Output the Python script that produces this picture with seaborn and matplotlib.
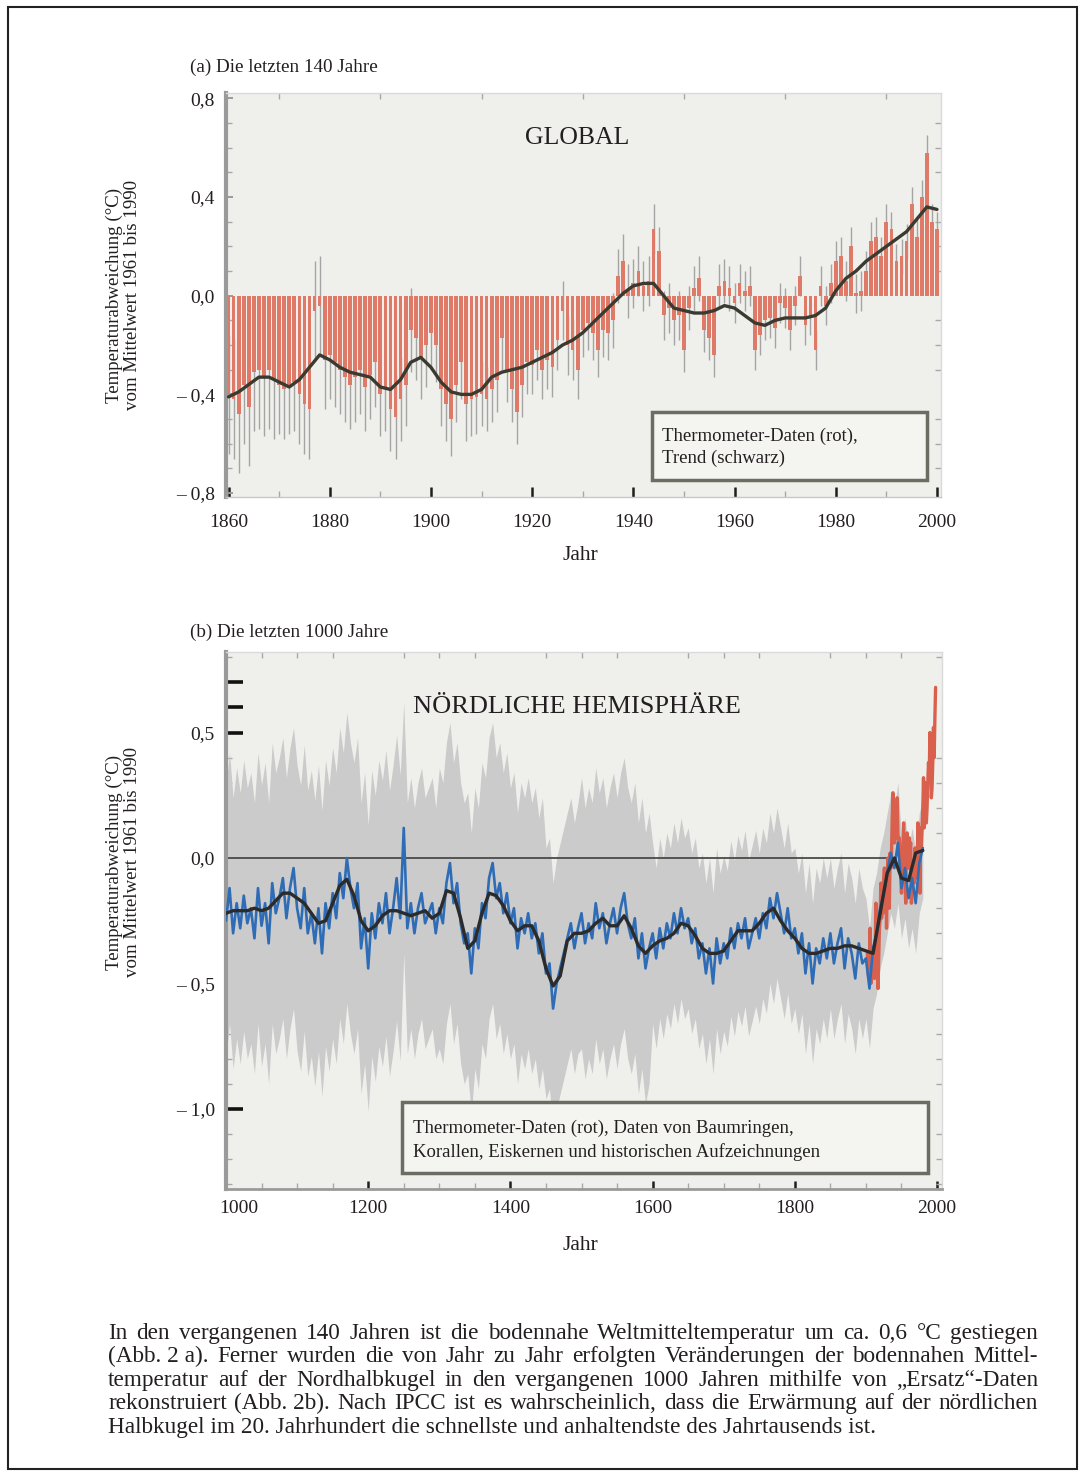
import numpy as np
import pandas as pd
import matplotlib
matplotlib.use("Agg")
import matplotlib.pyplot as plt
import seaborn as sns
from matplotlib.patches import Rectangle
from matplotlib.ticker import MultipleLocator
from matplotlib.transforms import ScaledTranslation

# ---------------- data: panel (a) ----------------
years_a = np.arange(1860, 2001)
temp_a = [
    -0.40, -0.42, -0.48, -0.36, -0.45, -0.31, -0.30, -0.33, -0.30, -0.34,
    -0.36, -0.38, -0.36, -0.35, -0.40, -0.44, -0.46, -0.06, -0.04, -0.26,
    -0.24, -0.27, -0.30, -0.33, -0.36, -0.33, -0.30, -0.37, -0.32, -0.27,
    -0.40, -0.38, -0.46, -0.49, -0.42, -0.36, -0.14, -0.17, -0.25, -0.20,
    -0.15, -0.20, -0.38, -0.44, -0.50, -0.36, -0.27, -0.44, -0.42, -0.41,
    -0.40, -0.42, -0.38, -0.34, -0.17, -0.30, -0.38, -0.47, -0.36, -0.27,
    -0.28, -0.22, -0.30, -0.26, -0.29, -0.18, -0.06, -0.20, -0.22, -0.30,
    -0.14, -0.11, -0.15, -0.22, -0.14, -0.15, -0.10, 0.08, 0.14, 0.02,
    0.05, 0.10, 0.04, 0.06, 0.27, 0.18, -0.08, -0.05, -0.10, -0.08,
    -0.22, -0.05, 0.03, 0.07, -0.14, -0.17, -0.24, 0.04, 0.06, 0.03,
    -0.03, 0.05, 0.02, 0.04, -0.22, -0.16, -0.10, -0.09, -0.13, -0.03,
    -0.05, -0.14, -0.04, 0.08, -0.12, -0.08, -0.22, 0.04, -0.04, 0.05,
    0.14, 0.16, 0.06, 0.20, 0.01, 0.02, 0.10, 0.22, 0.24, 0.16,
    0.30, 0.27, 0.14, 0.16, 0.22, 0.37, 0.24, 0.40, 0.58, 0.30,
    0.27,
]
err_decade_a = [0.24, 0.20, 0.18, 0.17, 0.15, 0.13, 0.12, 0.11, 0.10, 0.09,
                0.08, 0.08, 0.08, 0.07, 0.07]
trend_years_a = np.arange(1860, 2001, 2)
trend_a = [
    -0.41, -0.39, -0.36, -0.33, -0.33, -0.35, -0.37, -0.34, -0.29, -0.24,
    -0.26, -0.29, -0.31, -0.32, -0.33, -0.37, -0.38, -0.34, -0.27, -0.25,
    -0.29, -0.35, -0.39, -0.40, -0.40, -0.38, -0.33, -0.31, -0.30, -0.29,
    -0.27, -0.25, -0.23, -0.20, -0.18, -0.15, -0.11, -0.07, -0.03, 0.01,
    0.04, 0.05, 0.05, 0.00, -0.05, -0.06, -0.07, -0.07, -0.06, -0.04,
    -0.05, -0.08, -0.11, -0.12, -0.10, -0.09, -0.09, -0.09, -0.08, -0.05,
    0.02, 0.07, 0.10, 0.14, 0.17, 0.20, 0.23, 0.26, 0.31, 0.36,
    0.35,
]
xticks_a = [1860, 1880, 1900, 1920, 1940, 1960, 1980, 2000]
yticks_a = [0.8, 0.4, 0.0, -0.4, -0.8]
ylabels_a = ["0,8", "0,4", "0,0", "– 0,4", "– 0,8"]

# ---------------- data: panel (b) ----------------
years_b = np.arange(1000, 1981, 5)
proxy_b = [
    -0.25, -0.12, -0.30, -0.18, -0.28, -0.15, -0.26, -0.20, -0.32, -0.12,
    -0.27, -0.18, -0.34, -0.10, -0.22, -0.16, -0.08, -0.24, -0.12, -0.04,
    -0.20, -0.28, -0.12, -0.30, -0.22, -0.34, -0.20, -0.38, -0.18, -0.28,
    -0.14, -0.24, -0.06, -0.16, 0.00, -0.12, -0.20, -0.10, -0.36, -0.24,
    -0.44, -0.22, -0.32, -0.18, -0.26, -0.14, -0.30, -0.20, -0.08, -0.24,
    0.12, -0.28, -0.18, -0.30, -0.20, -0.14, -0.26, -0.22, -0.18, -0.30,
    -0.20, -0.26, -0.10, -0.02, -0.18, -0.10, -0.26, -0.34, -0.30, -0.46,
    -0.28, -0.36, -0.18, -0.24, -0.08, -0.02, -0.16, -0.10, -0.22, -0.14,
    -0.26, -0.20, -0.36, -0.24, -0.30, -0.22, -0.32, -0.26, -0.38, -0.30,
    -0.46, -0.42, -0.60, -0.50, -0.44, -0.38, -0.32, -0.26, -0.36, -0.28,
    -0.22, -0.34, -0.26, -0.32, -0.18, -0.28, -0.22, -0.34, -0.26, -0.20,
    -0.30, -0.20, -0.14, -0.26, -0.32, -0.24, -0.40, -0.30, -0.44, -0.36,
    -0.30, -0.40, -0.28, -0.36, -0.26, -0.32, -0.22, -0.30, -0.20, -0.28,
    -0.24, -0.34, -0.28, -0.40, -0.34, -0.46, -0.36, -0.50, -0.32, -0.42,
    -0.34, -0.40, -0.28, -0.36, -0.26, -0.32, -0.24, -0.36, -0.30, -0.24,
    -0.32, -0.22, -0.28, -0.16, -0.24, -0.14, -0.22, -0.30, -0.20, -0.32,
    -0.28, -0.38, -0.30, -0.46, -0.34, -0.50, -0.36, -0.42, -0.32, -0.40,
    -0.30, -0.42, -0.34, -0.28, -0.44, -0.32, -0.38, -0.48, -0.34, -0.42,
    -0.40, -0.52, -0.36, -0.30, -0.20, -0.14, -0.06, 0.02, -0.04, 0.06,
    -0.12, -0.04, -0.16, -0.08, -0.18, -0.02, 0.04,
]
unc_b_50yr = [0.54, 0.56, 0.57, 0.58, 0.57, 0.50, 0.56, 0.56, 0.54, 0.50,
              0.54, 0.54, 0.36, 0.36, 0.35, 0.34, 0.32, 0.30, 0.24, 0.20]
smooth_years_b = np.arange(1000, 1981, 10)
smooth_b = [
    -0.22, -0.21, -0.21, -0.21, -0.20, -0.21, -0.20, -0.17, -0.14, -0.14,
    -0.16, -0.18, -0.22, -0.26, -0.25, -0.18, -0.11, -0.085, -0.15, -0.25,
    -0.29, -0.27, -0.23, -0.21, -0.21, -0.22, -0.23, -0.22, -0.21, -0.24,
    -0.22, -0.13, -0.14, -0.24, -0.36, -0.33, -0.22, -0.14, -0.15, -0.19,
    -0.25, -0.29, -0.27, -0.27, -0.33, -0.44, -0.51, -0.47, -0.33, -0.30,
    -0.30, -0.29, -0.26, -0.24, -0.27, -0.27, -0.23, -0.28, -0.35, -0.38,
    -0.35, -0.33, -0.32, -0.30, -0.26, -0.27, -0.31, -0.36, -0.38, -0.38,
    -0.37, -0.33, -0.29, -0.29, -0.29, -0.26, -0.22, -0.20, -0.25, -0.29,
    -0.32, -0.36, -0.38, -0.38, -0.37, -0.36, -0.36, -0.35, -0.35, -0.36,
    -0.37, -0.38, -0.22, -0.06, 0.00, -0.08, -0.09, 0.02, 0.03,
]
instr_years_b = np.arange(1902, 1999)
instr_b = [
    -0.38, -0.45, -0.48, -0.40, -0.28, -0.50, -0.44, -0.46, -0.40, -0.42,
    -0.48, -0.36, -0.18, -0.22, -0.36, -0.52, -0.40, -0.28, -0.24, -0.10,
    -0.24, -0.20, -0.22, -0.08, -0.04, -0.12, -0.10, -0.28, -0.06, 0.00,
    -0.02, -0.20, 0.02, -0.04, 0.02, 0.16, 0.26, 0.10, 0.06, 0.12,
    0.08, 0.14, 0.24, 0.10, 0.02, 0.08, 0.00, -0.04, -0.14, 0.02,
    0.04, 0.14, -0.06, -0.10, -0.18, 0.08, 0.10, 0.06, -0.04, 0.08,
    0.04, 0.06, -0.18, -0.12, -0.06, -0.04, -0.10, 0.04, 0.00, -0.08,
    -0.06, 0.14, -0.08, 0.00, -0.14, 0.12, 0.04, 0.12, 0.20, 0.32,
    0.12, 0.30, 0.18, 0.14, 0.20, 0.30, 0.38, 0.32, 0.50, 0.42,
    0.24, 0.28, 0.38, 0.52, 0.40, 0.56, 0.68,
]
xticks_b = [1000, 1200, 1400, 1600, 1800, 2000]
yticks_b = [0.7, 0.6, 0.5, 0.0, -0.5, -1.0]
ylabels_b = ["", "", "0,5", "0,0", "– 0,5", "– 1,0"]

caption_lines = [
    "In den vergangenen 140 Jahren ist die bodennahe Weltmitteltemperatur um ca. 0,6 °C gestiegen",
    "(Abb.\u00a02\u00a0a). Ferner wurden die von Jahr zu Jahr erfolgten Veränderungen der bodennahen Mittel-",
    "temperatur auf der Nordhalbkugel in den vergangenen 1000 Jahren mithilfe von „Ersatz“-Daten",
    "rekonstruiert (Abb.\u00a02b). Nach IPCC ist es wahrscheinlich, dass die Erwärmung auf der nördlichen",
    "Halbkugel im 20. Jahrhundert die schnellste und anhaltendste des Jahrtausends ist.",
]

# ---------------- style ----------------
W, H = 1085, 1477
sns.set_theme(style="white")
plt.rcParams['font.family'] = ['Liberation Serif', 'DejaVu Serif']
plt.rcParams['axes.unicode_minus'] = False
TXT = '#231f20'
BG = '#efefec'

fig = plt.figure(figsize=(W / 100, H / 100), dpi=100)
fig.patch.set_facecolor('white')


def fx(px):
    return px / W


def fy(py):
    return 1 - py / H


def style_axes(ax, left_w=3.0, bottom_c='#c8c8c8', bottom_w=1.0):
    ax.set_facecolor(BG)
    for side in ['top', 'right']:
        ax.spines[side].set_color('#dadada')
        ax.spines[side].set_linewidth(1.0)
    ax.spines['left'].set_color('#9a9a9a')
    ax.spines['left'].set_linewidth(left_w)
    ax.spines['bottom'].set_color(bottom_c)
    ax.spines['bottom'].set_linewidth(bottom_w)
    ax.tick_params(which='minor', direction='in', length=4, width=1.0,
                   color='#a8a8a8', left=True, right=True, top=True, bottom=True)
    ax.set_xlabel('')
    ax.set_ylabel('')


# ---------------- panel (a) ----------------
ax1 = fig.add_axes([fx(226), fy(497), fx(941 - 226), (497 - 93) / H])
df_a = pd.DataFrame({'Jahr': years_a, 'T': temp_a})
err_a = np.repeat(err_decade_a, 10)[:len(years_a)]
ax1.errorbar(years_a, temp_a, yerr=err_a, fmt='none', ecolor='#a4a4a4',
             elinewidth=1.0, capsize=0, zorder=1)
sns.barplot(data=df_a, x='Jahr', y='T', native_scale=True, width=0.74,
            color='#df7a68', saturation=1, linewidth=0, errorbar=None,
            ax=ax1, zorder=2)
sns.lineplot(x=trend_years_a, y=trend_a, color='#3a3a30', lw=2.4, ax=ax1, zorder=4)
ax1.set_xlim(1859.5, 2000.8)
ax1.set_ylim(-0.816, 0.822)
ax1.set_xticks(xticks_a)
ax1.set_xticklabels([str(v) for v in xticks_a])
ax1.set_yticks(yticks_a)
ax1.set_yticklabels(ylabels_a)
ax1.xaxis.set_minor_locator(MultipleLocator(10))
ax1.yaxis.set_minor_locator(MultipleLocator(0.1))
style_axes(ax1)
ax1.tick_params(axis='x', which='major', direction='in', length=7, width=1.8,
                color='#1e1e1e', labelsize=14, labelcolor=TXT, pad=12, bottom=True)
ax1.tick_params(axis='y', which='major', direction='in', length=5, width=1.4,
                color='#9a9a9a', labelsize=14, labelcolor=TXT, pad=8, left=True)

# ---------------- panel (b) ----------------
ax2 = fig.add_axes([fx(226), fy(1189), fx(942 - 226), (1189 - 652) / H])
unc = np.repeat(unc_b_50yr, 10)[:len(years_b)]
proxy_arr = np.array(proxy_b)
ax2.fill_between(years_b, proxy_arr - unc, proxy_arr + unc, color='#cbcbcb',
                 lw=0, zorder=1)
ax2.hlines(0, 1000, 1935, color='#4a4a4a', lw=1.3, zorder=2)
sns.lineplot(x=instr_years_b, y=instr_b, color='#d9604c', lw=2.4, ax=ax2, zorder=3)
sns.lineplot(x=years_b, y=proxy_b, color='#2f6cb6', lw=1.9, ax=ax2, zorder=4)
sns.lineplot(x=smooth_years_b, y=smooth_b, color='#2b2b2b', lw=2.4, ax=ax2, zorder=5)
ax2.set_xlim(1000, 2007)
ax2.set_ylim(-1.319, 0.821)
ax2.set_xticks(xticks_b)
ax2.set_xticklabels([str(v) for v in xticks_b])
ax2.set_yticks(yticks_b)
ax2.set_yticklabels(ylabels_b)
ax2.xaxis.set_minor_locator(MultipleLocator(50))
ax2.yaxis.set_minor_locator(MultipleLocator(0.1))
style_axes(ax2, bottom_c='#9a9a9a', bottom_w=2.0)
ax2.tick_params(axis='x', which='major', direction='in', length=6, width=1.8,
                color='#1e1e1e', labelsize=14, labelcolor=TXT, pad=8, bottom=True)
ax2.tick_params(axis='y', which='major', direction='in', length=12, width=2.6,
                color='#111111', labelsize=14, labelcolor=TXT, pad=8, left=True)
lbl0 = ax2.get_xticklabels()[0]
lbl0.set_transform(lbl0.get_transform() + ScaledTranslation(0.13, 0, fig.dpi_scale_trans))

# ---------------- figure texts ----------------
fig.text(fx(190), fy(67), "(a) Die letzten 140 Jahre", fontsize=13.8, color=TXT,
         ha='left', va='center')
fig.text(fx(190), fy(632), "(b) Die letzten 1000 Jahre", fontsize=13.8, color=TXT,
         ha='left', va='center')
fig.text(fx(577), fy(138), "GLOBAL", fontsize=18.5, color=TXT, ha='center', va='center')
fig.text(fx(577), fy(707), "NÖRDLICHE HEMISPHÄRE", fontsize=19, color=TXT,
         ha='center', va='center')
for yc in (295, 862):
    fig.text(fx(123), fy(yc), "Temperaturabweichung (°C)\nvom Mittelwert 1961 bis 1990",
             fontsize=13.6, color=TXT, rotation=90, ha='center', va='center',
             multialignment='center', linespacing=1.1)
fig.text(fx(580), fy(555), "Jahr", fontsize=15.5, color=TXT, ha='center', va='center')
fig.text(fx(580), fy(1245), "Jahr", fontsize=15.5, color=TXT, ha='center', va='center')

# legend boxes
for (x0, y0, x1, y1) in [(652, 412, 927, 480), (402, 1102, 928, 1173)]:
    fig.patches.append(Rectangle((fx(x0), fy(y1)), fx(x1 - x0), (y1 - y0) / H,
                                 transform=fig.transFigure, facecolor='#f4f4f1',
                                 edgecolor='#6c6c62', lw=2.5, zorder=10))
fig.text(fx(662), fy(436), "Thermometer-Daten (rot),", fontsize=13.5, color=TXT,
         ha='left', va='center', zorder=11)
fig.text(fx(662), fy(458), "Trend (schwarz)", fontsize=13.5, color=TXT,
         ha='left', va='center', zorder=11)
fig.text(fx(413), fy(1128), "Thermometer-Daten (rot), Daten von Baumringen,",
         fontsize=13.5, color=TXT, ha='left', va='center', zorder=11)
fig.text(fx(413), fy(1152), "Korallen, Eiskernen und historischen Aufzeichnungen",
         fontsize=13.5, color=TXT, ha='left', va='center', zorder=11)

# outer frame
fig.patches.append(Rectangle((fx(8), fy(1469)), fx(1069), (1469 - 7) / H,
                             transform=fig.transFigure, fill=False,
                             edgecolor='#222222', lw=1.5))

# ---------------- caption (justified) ----------------
renderer = fig.canvas.get_renderer()


def text_width(s, size):
    t = fig.text(0, 0, s, fontsize=size)
    w = t.get_window_extent(renderer).width
    t.remove()
    return w


cap_left, cap_right = 108, 1038
cap_base = [1339, 1362, 1386, 1409, 1433]   # baselines
base = 14.0
widest = max(text_width(l, base) for l in caption_lines[:-1])
cap_size = base * 918 / widest
for i, line in enumerate(caption_lines):
    if i == len(caption_lines) - 1:
        fig.text(fx(cap_left), fy(cap_base[i]), line, fontsize=cap_size, color=TXT,
                 ha='left', va='baseline')
        continue
    words = line.split(' ')
    widths = [text_width(w, cap_size) for w in words]
    gap = (cap_right - cap_left - sum(widths)) / (len(words) - 1)
    xpos = cap_left
    for w, wd in zip(words, widths):
        fig.text(fx(xpos), fy(cap_base[i]), w, fontsize=cap_size, color=TXT,
                 ha='left', va='baseline')
        xpos += wd + gap

fig.savefig("out.png", dpi=100, facecolor='white')
